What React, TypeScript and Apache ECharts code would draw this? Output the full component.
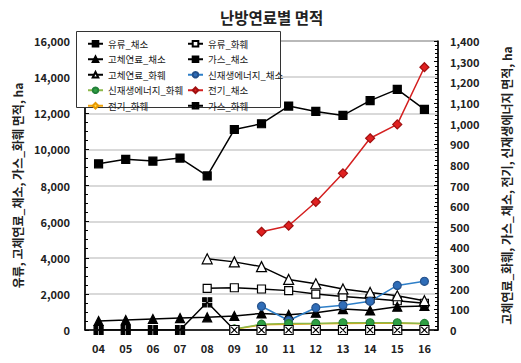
import React, { useEffect, useRef } from "react";
import * as echarts from "echarts";

const categories = ["04", "05", "06", "07", "08", "09", "10", "11", "12", "13", "14", "15", "16"];
const leftTicks = [0, 2000, 4000, 6000, 8000, 10000, 12000, 14000, 16000];
const rightTicks = [0, 100, 200, 300, 400, 500, 600, 700, 800, 900, 1000, 1100, 1200, 1300, 1400];

// left axis series
const oilVeg = [9200, 9450, 9350, 9520, 8530, 11100, 11420, 12400, 12100, 11880, 12700, 13320, 12220];
const oilFlower = [null, null, null, null, 2310, 2340, 2270, 2180, 1990, 1850, 1740, 1620, 1480];
const solidVeg = [500, 550, 610, 660, 700, 775, 920, 840, 960, 1160, 1080, 1290, 1330];
const gasFlower = [null, null, null, null, null, 0, 0, 0, 0, 0, 0, 0, 0];
// right axis series
const solidFlower = [null, null, null, null, 345, 330, 307, 245, 224, 199, 182, 166, 142];
const gasVeg = [0, 0, 0, 0, 134, 0, null, null, null, null, null, null, null];
const renewVeg = [null, null, null, null, null, null, 115, 46, 108, 120, 139, 216, 236];
const renewFlower = [null, null, null, null, null, 5, 28, 31, 32, 35, 35, 35, 32];
const elecVeg = [null, null, null, null, null, null, 476, 505, 620, 759, 929, 996, 1273];
const elecFlower = [null, null, null, null, null, 4, 25, 28, 30, 32, 33, 33, 30];

const FONT = "'Noto Sans CJK KR', 'Noto Sans', sans-serif";

const SYM_GAS_VEG = "path://M0,0H4V4H0Z M6,0H10V4H6Z M0,6H4V10H0Z M6,6H10V10H6Z";
const SYM_GAS_FLOWER = "path://M0,0H10V10H0Z M1.5,1.5L8.5,8.5 M8.5,1.5L1.5,8.5";

export default function App() {
  const ref = useRef<HTMLDivElement>(null);
  useEffect(() => {
    if (!ref.current) return;
    const chart = echarts.init(ref.current, null, { renderer: "svg" });
    const fmt = (v: number) => v.toLocaleString("en-US");
    const line = (
      name: string,
      data: (number | null)[],
      yAxisIndex: number,
      symbol: string,
      symbolSize: number,
      lineColor: string,
      fill: string,
      border: string,
      z = 2
    ) => ({
      name,
      type: "line",
      data,
      yAxisIndex,
      symbol,
      symbolSize,
      z,
      lineStyle: { color: lineColor, width: 1.5 },
      itemStyle: { color: fill, borderColor: border, borderWidth: 1.2 },
    });
    const legendBase = {
      top: 34,
      orient: "vertical",
      itemWidth: 15,
      itemHeight: 7,
      itemGap: 6,
      z: 4,
      textStyle: { fontFamily: FONT, fontSize: 9.5, color: "#222" },
    };
    chart.setOption({
      animation: false,
      backgroundColor: "#fff",
      title: {
        text: "난방연료별 면적",
        left: 215,
        top: 4,
        textStyle: { fontFamily: FONT, fontSize: 15.5, fontWeight: "bold", color: "#222" },
      },
      graphic: [
        {
          type: "rect",
          z: 3,
          shape: { x: 76.5, y: 31.5, width: 204, height: 76 },
          style: { fill: "#fff", stroke: "#333", lineWidth: 1 },
        },
      ],
      legend: [
        {
          ...legendBase,
          left: 82,
          data: ["유류_채소", "고체연료_채소", "고체연료_화훼", "신재생에너지_화훼", "전기_화훼"],
        },
        {
          ...legendBase,
          left: 182,
          data: ["유류_화훼", "가스_채소", "신재생에너지_채소", "전기_채소", "가스_화훼"],
        },
      ],
      grid: {
        left: 85,
        right: 83,
        top: 41,
        bottom: 33,
        show: true,
        borderColor: "#000",
        borderWidth: 1,
      },
      xAxis: {
        type: "category",
        data: categories,
        boundaryGap: true,
        axisLine: { lineStyle: { color: "#000", width: 1.5 } },
        axisTick: { inside: true, length: 3, lineStyle: { color: "#000" } },
        axisLabel: {
          margin: 12,
          fontFamily: FONT,
          fontSize: 11,
          fontWeight: "bold",
          color: "#222",
        },
      },
      yAxis: [
        {
          type: "value",
          min: leftTicks[0],
          max: leftTicks[leftTicks.length - 1],
          interval: 2000,
          name: "유류, 고체연료_채소, 가스_화훼 면적, ha",
          nameLocation: "middle",
          nameRotate: 90,
          nameGap: 62,
          nameTextStyle: { fontFamily: FONT, fontSize: 12, fontWeight: "bold", color: "#222" },
          axisLine: { show: true, lineStyle: { color: "#000", width: 1.5 } },
          axisTick: { show: true, inside: true, length: 4, lineStyle: { color: "#000" } },
          minorTick: { show: true, splitNumber: 4, length: 3, lineStyle: { color: "#000" } },
          splitLine: { show: true, lineStyle: { color: "#cccccc", width: 1.5 } },
          axisLabel: {
            margin: 15,
            formatter: fmt,
            fontFamily: FONT,
            fontSize: 11,
            fontWeight: "bold",
            color: "#222",
          },
        },
        {
          type: "value",
          position: "right",
          min: rightTicks[0],
          max: rightTicks[rightTicks.length - 1],
          interval: 100,
          name: "고체연료_화훼, 가스_채소, 전기, 신재생에너지 면적, ha",
          nameLocation: "middle",
          nameRotate: 90,
          nameGap: 62,
          nameTextStyle: { fontFamily: FONT, fontSize: 12, fontWeight: "bold", color: "#222" },
          axisLine: { show: true, lineStyle: { color: "#000", width: 1.5 } },
          axisTick: { show: true, inside: true, length: 4, lineStyle: { color: "#000" } },
          minorTick: { show: true, splitNumber: 5, length: 3, lineStyle: { color: "#000" } },
          splitLine: { show: false },
          axisLabel: {
            margin: 12,
            formatter: fmt,
            fontFamily: FONT,
            fontSize: 11,
            fontWeight: "bold",
            color: "#222",
          },
        },
      ],
      series: [
        line("유류_채소", oilVeg, 0, "rect", 8, "#000", "#000", "#000"),
        line("유류_화훼", oilFlower, 0, "rect", 8, "#000", "#fff", "#000"),
        line("고체연료_채소", solidVeg, 0, "triangle", 9, "#000", "#000", "#000"),
        line("가스_채소", gasVeg, 1, SYM_GAS_VEG, 9, "#000", "#000", "#000"),
        line("고체연료_화훼", solidFlower, 1, "triangle", 10, "#000", "#fff", "#000"),
        line("신재생에너지_채소", renewVeg, 1, "circle", 8, "#2e7fc8", "#2f6db8", "#24508a"),
        line("전기_화훼", elecFlower, 1, "diamond", 8, "#f0a30a", "#ffd84a", "#e89a00"),
        line("신재생에너지_화훼", renewFlower, 1, "circle", 8, "#8cb84a", "#2ea043", "#23803a"),
        line("전기_채소", elecVeg, 1, "diamond", 9, "#d42020", "#e02020", "#a01010"),
        line("가스_화훼", gasFlower, 0, SYM_GAS_FLOWER, 9, "#000", "#fff", "#000", 3),
      ],
    });
    return () => chart.dispose();
  }, []);
  return <div ref={ref} style={{ width: 521, height: 363, position: "absolute", left: 0, top: 0 }} />;
}
